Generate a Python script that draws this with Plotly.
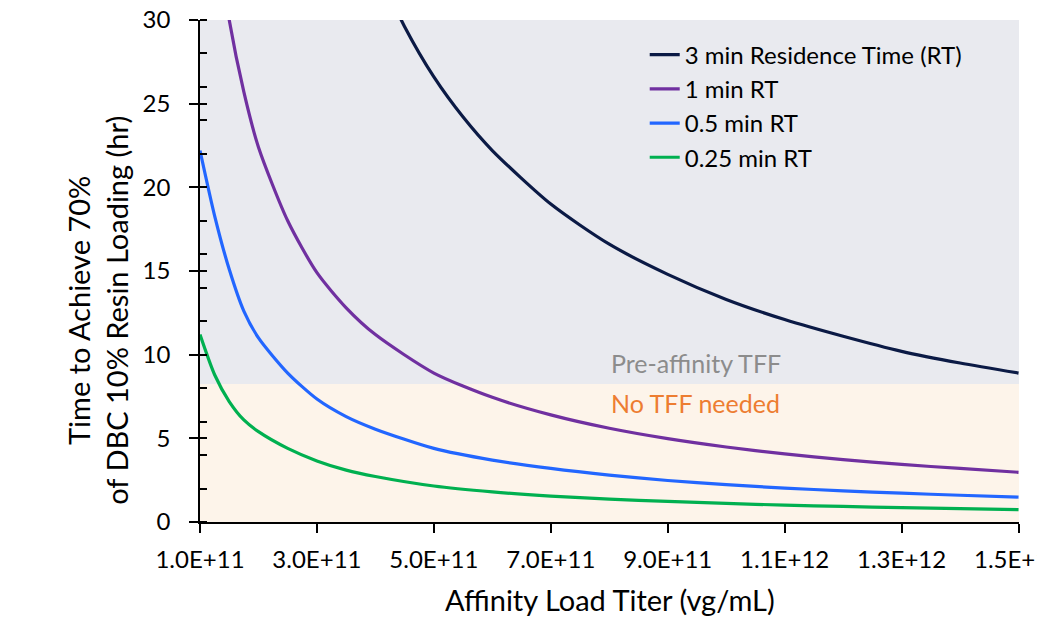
import plotly.graph_objects as go

# ---------------- data ----------------
x_3min = [4.0e11, 4.5e11, 5.0e11, 5.5e11, 6.0e11, 7.0e11, 8.0e11, 9.0e11, 1.0e12,
          1.1e12, 1.2e12, 1.3e12, 1.4e12, 1.5e12]
rt_3min = [33.3, 29.6, 26.6, 24.2, 22.2, 19.0, 16.6, 14.8, 13.3, 12.1, 11.1, 10.2, 9.5, 8.9]

x_common = [1.0e11, 1.25e11, 1.5e11, 1.75e11, 2.0e11, 2.5e11, 3.0e11, 3.5e11, 4.0e11,
            5.0e11, 6.0e11, 7.0e11, 8.0e11, 9.0e11, 1.0e12, 1.1e12, 1.2e12, 1.3e12,
            1.4e12, 1.5e12]
rt_1min = [45.0, 36.0, 30.0, 25.7, 22.4, 18.0, 14.9, 12.8, 11.2, 8.9, 7.45, 6.4, 5.6,
           4.98, 4.48, 4.07, 3.73, 3.44, 3.2, 2.97]
rt_05min = [22.2, 18.3, 15.1, 12.6, 11.0, 8.9, 7.35, 6.3, 5.55, 4.4, 3.7, 3.2, 2.8,
            2.48, 2.23, 2.03, 1.86, 1.72, 1.6, 1.49]
rt_025min = [11.2, 8.8, 7.2, 6.1, 5.4, 4.4, 3.65, 3.1, 2.72, 2.15, 1.8, 1.55, 1.37,
             1.23, 1.11, 1.01, 0.93, 0.86, 0.8, 0.74]

series_names = ["3 min Residence Time (RT)", "1 min RT", "0.5 min RT", "0.25 min RT"]
series_colors = ["#0B1A45", "#7030A0", "#2266FF", "#00B050"]

x_tickvals = [1.0e11, 3.0e11, 5.0e11, 7.0e11, 9.0e11, 1.1e12, 1.3e12, 1.5e12]
x_ticktext = ["1.0E+11", "3.0E+11", "5.0E+11", "7.0E+11", "9.0E+11", "1.1E+12",
              "1.3E+12", "1.5E+12"]
y_tickvals = [0, 5, 10, 15, 20, 25, 30]

x_range = [1.0e11, 1.5008e12]
y_range = [0, 30]
tff_threshold = 8.25
label_x = 8.0e11

FONT = "Lato, Carlito, Calibri, sans-serif"

fig = go.Figure()

xs = [x_3min, x_common, x_common, x_common]
ys = [rt_3min, rt_1min, rt_05min, rt_025min]
for xv, yv, name, col in zip(xs, ys, series_names, series_colors):
    fig.add_trace(go.Scatter(
        x=xv, y=yv, mode="lines", name=name,
        line=dict(color=col, width=3.2, shape="spline", smoothing=0.7),
        yaxis="y",
    ))

# invisible trace for overlay axis (inside part of major ticks)
fig.add_trace(go.Scatter(x=[x_range[0]], y=[y_range[0]], mode="markers",
                         marker=dict(opacity=0), showlegend=False, hoverinfo="skip",
                         yaxis="y2"))

# region shading
fig.add_shape(type="rect", xref="x domain", yref="y", x0=0, x1=1,
              y0=tff_threshold, y1=y_range[1], fillcolor="#E9EAEF",
              line=dict(width=0), layer="below")
fig.add_shape(type="rect", xref="x domain", yref="y", x0=0, x1=1,
              y0=y_range[0], y1=tff_threshold, fillcolor="#FDF4EA",
              line=dict(width=0), layer="below")

fig.add_annotation(x=label_x, y=tff_threshold + 1.25, xref="x", yref="y",
                   text="Pre-affinity TFF", showarrow=False, xanchor="left",
                   yanchor="middle", font=dict(family=FONT, size=25, color="#8C8C8C"))
fig.add_annotation(x=label_x, y=tff_threshold - 1.15, xref="x", yref="y",
                   text="No TFF needed", showarrow=False, xanchor="left",
                   yanchor="middle", font=dict(family=FONT, size=25, color="#ED7D31"))

# axis titles
fig.add_annotation(x=-0.125, y=0.422, xref="paper", yref="paper",
                   text="Time to Achieve 70%<br>of DBC 10% Resin Loading (hr)",
                   textangle=-90, showarrow=False, xanchor="center", yanchor="middle",
                   font=dict(family=FONT, size=29, color="black"))
fig.add_annotation(x=0.5, y=-0.155, xref="paper", yref="paper",
                   text="Affinity Load Titer (vg/mL)", showarrow=False,
                   xanchor="center", yanchor="middle",
                   font=dict(family=FONT, size=29, color="black"))

fig.update_layout(
    width=1037, height=620,
    margin=dict(l=200, r=18, t=20, b=98),
    paper_bgcolor="white", plot_bgcolor="white",
    font=dict(family=FONT, color="black"),
    showlegend=True,
    legend=dict(x=0.543, y=0.975, xanchor="left", yanchor="top",
                bgcolor="rgba(0,0,0,0)", borderwidth=0,
                font=dict(family=FONT, size=24, color="black"),
                tracegroupgap=0, itemwidth=30),
    xaxis=dict(range=x_range, tickmode="array", tickvals=x_tickvals,
               ticktext=x_ticktext, ticks="outside", ticklen=9, tickwidth=1.5,
               tickcolor="black", showline=True, linecolor="black", linewidth=1.5,
               showgrid=False, zeroline=False, automargin=False,
               tickfont=dict(family=FONT, size=24, color="black"),
               ticklabelstandoff=6, ticklabeloverflow="allow"),
    yaxis=dict(range=y_range, tickmode="array", tickvals=y_tickvals,
               ticks="outside", ticklen=9, tickwidth=1.5, tickcolor="black",
               showline=True, linecolor="black", linewidth=1.5,
               showgrid=False, zeroline=False, automargin=False,
               tickfont=dict(family=FONT, size=24, color="black"),
               ticklabelstandoff=14,
               minor=dict(ticks="inside", ticklen=7, tickwidth=1.5,
                          tickcolor="black", dtick=2, tick0=0, showgrid=False)),
    yaxis2=dict(range=y_range, overlaying="y", side="left", tickmode="array",
                tickvals=y_tickvals, ticks="inside", ticklen=7, tickwidth=1.5,
                tickcolor="black", showticklabels=False, showline=False,
                showgrid=False, zeroline=False, automargin=False),
)

fig.write_html("out.html")
